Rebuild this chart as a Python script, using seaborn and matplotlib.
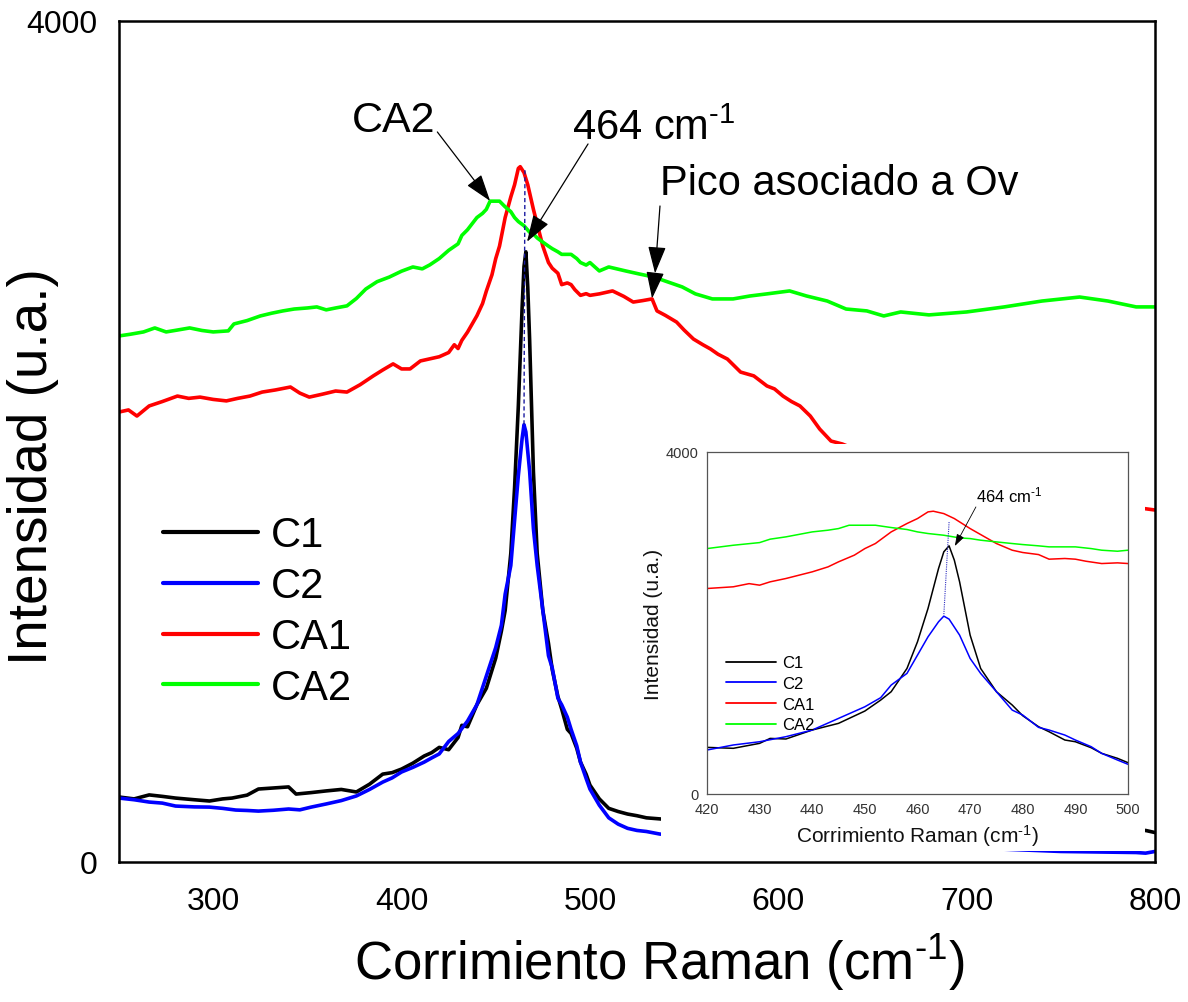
import numpy as np
import pandas as pd
import matplotlib
matplotlib.use("Agg")
import matplotlib.pyplot as plt
from matplotlib.patches import Rectangle
from matplotlib.ticker import MultipleLocator
import seaborn as sns

# Raman spectra (Raman shift in cm^-1, intensity in a.u.)
c1_x = [250, 258, 266, 273, 280, 290, 298, 305, 310, 318, 324, 332, 340, 344, 352, 360, 368, 376,
        383, 390, 395, 400, 406, 412, 416, 420, 425, 430, 432, 435, 440, 445, 450, 453, 455, 458,
        460, 462, 464, 465, 466, 467, 468, 470, 472, 475, 478, 480, 483, 485, 488, 490, 493, 495,
        498, 500, 505, 510, 515, 520, 525, 530, 537, 560, 600, 650, 700, 750, 790, 795, 800]
c1_y = [309, 300, 319, 312, 304, 296, 290, 300, 304, 318, 347, 352, 357, 323, 330, 338, 345, 333,
        370, 418, 425, 442, 470, 504, 520, 545, 534, 592, 650, 643, 748, 826, 970, 1098, 1196, 1468,
        1780, 2170, 2637, 2832, 2902, 2734, 2481, 1858, 1468, 1196, 1040, 915, 787, 728, 631, 611, 541, 475,
        417, 366, 300, 255, 240, 228, 220, 210, 205, 185, 165, 150, 148, 145, 143, 150, 140]

c2_x = [250, 258, 266, 273, 280, 290, 298, 305, 312, 318, 324, 332, 340, 346, 352, 360, 368, 376,
        383, 390, 395, 400, 406, 412, 416, 420, 425, 430, 435, 440, 445, 450, 453, 455, 458, 460,
        462, 464, 465, 466, 468, 470, 472, 475, 478, 480, 483, 485, 488, 490, 493, 495, 498, 500,
        505, 510, 515, 520, 525, 530, 537, 560, 600, 650, 700, 750, 790, 795, 800]
c2_y = [304, 296, 285, 280, 266, 262, 261, 255, 247, 245, 242, 246, 252, 248, 261, 276, 292, 314,
        345, 380, 400, 428, 450, 475, 495, 514, 573, 611, 670, 748, 884, 1020, 1126, 1274, 1410, 1624,
        1838, 2014, 2080, 2045, 1858, 1585, 1410, 1196, 981, 923, 779, 748, 689, 631, 553, 475, 397, 347,
        270, 210, 180, 160, 150, 145, 133, 110, 85, 72, 68, 50, 45, 42, 50]

ca1_x = [250, 255, 259.5, 266, 273, 281, 287, 293, 300, 307, 313, 319.5, 326, 333, 341, 346, 351,
         358, 365, 371, 378, 385, 390, 395.5, 400, 404.5, 410, 416, 420, 425, 428, 430, 432, 435,
         440, 443, 445, 448, 450, 452, 455, 458, 460, 462, 463, 465, 467, 470, 472, 475, 478, 480,
         483, 485, 488, 490, 492, 495, 498, 500, 505, 512, 518, 523, 528, 533, 535.6, 540, 546, 550,
         555, 560, 564, 568, 573, 580, 587, 594, 598, 602.5, 607, 611.5, 617, 622, 628, 634, 650,
         700, 750, 795, 800]
ca1_y = [2140, 2150, 2121, 2169, 2190, 2216, 2205, 2211, 2200, 2193, 2205, 2216, 2235, 2245, 2259,
         2230, 2211, 2225, 2240, 2235, 2270, 2312, 2340, 2369, 2345, 2345, 2383, 2395, 2403, 2423,
         2460, 2442, 2481, 2520, 2598, 2656, 2715, 2793, 2870, 2929, 3065, 3163, 3221, 3299, 3307,
         3279, 3221, 3104, 3034, 2929, 2851, 2824, 2800, 2746, 2754, 2746, 2722, 2695, 2703, 2695,
         2702, 2716, 2690, 2663, 2670, 2678, 2621, 2600, 2568, 2530, 2487, 2460, 2440, 2415, 2392,
         2330, 2312, 2264, 2250, 2216, 2190, 2169, 2121, 2059, 2002, 1988, 1930, 1800, 1720, 1680, 1674]

ca2_x = [250, 256, 263, 269, 275, 281, 287.5, 294, 300, 308, 311, 318, 325, 331, 337, 343, 350, 355,
         360, 365, 371, 376, 381, 387, 393.5, 400, 406, 411, 415, 420, 425, 430, 432, 435, 440, 443,
         445, 447, 450, 452, 455, 458, 460, 462, 465, 468, 470, 472, 475, 478, 480, 483, 485, 488,
         490, 493, 495, 498, 500, 505, 510, 519, 526, 534, 540, 549, 556, 565, 576, 585, 594, 606,
         615, 626, 636, 647, 656, 665, 680, 700, 720, 740, 760, 775, 790, 800]
ca2_y = [2502, 2510, 2521, 2540, 2521, 2530, 2540, 2528, 2521, 2526, 2559, 2575, 2597, 2610, 2621,
         2630, 2635, 2640, 2626, 2635, 2645, 2680, 2725, 2760, 2782, 2810, 2830, 2821, 2840, 2870,
         2909, 2940, 2980, 3007, 3065, 3085, 3104, 3143, 3143, 3143, 3116, 3093, 3065, 3046, 3026,
         2995, 2987, 2968, 2948, 2929, 2917, 2902, 2890, 2890, 2890, 2870, 2851, 2839, 2851, 2811,
         2830, 2811, 2797, 2782, 2763, 2735, 2702, 2678, 2678, 2692, 2702, 2716, 2692, 2668, 2630,
         2621, 2597, 2616, 2602, 2616, 2640, 2668, 2687, 2668, 2640, 2640]

samples = ["C1", "C2", "CA1", "CA2"]
colors = {"C1": "#000000", "C2": "#0000FF", "CA1": "#FF0000", "CA2": "#00FF00"}

xticks_main = [300, 400, 500, 600, 700, 800]
xticks_inset = [420, 430, 440, 450, 460, 470, 480, 490, 500]
yticks = [0, 4000]

peak_pos = 464  # labelled peak position (cm^-1)

frames = []
for name, xs, ys in [("C1", c1_x, c1_y), ("C2", c2_x, c2_y),
                     ("CA1", ca1_x, ca1_y), ("CA2", ca2_x, ca2_y)]:
    frames.append(pd.DataFrame({"shift": xs, "intensity": ys, "muestra": name}))
df = pd.concat(frames, ignore_index=True)

sns.set_theme(style="white")
plt.rcParams["font.family"] = ["Liberation Sans", "DejaVu Sans"]
plt.rcParams["mathtext.fontset"] = "custom"
plt.rcParams["mathtext.rm"] = "Liberation Sans"
plt.rcParams["mathtext.it"] = "Liberation Sans:italic"
plt.rcParams["mathtext.bf"] = "Liberation Sans:bold"
for key in ["text.color", "axes.labelcolor", "xtick.color", "ytick.color"]:
    plt.rcParams[key] = "black"

xlabel = "Corrimiento Raman (cm$^{\\text{-1}}$)"
ylabel = "Intensidad (u.a.)"
peak_label = f"{peak_pos} cm$^{{\\text{{-1}}}}$"

fig = plt.figure(figsize=(11.88, 10.03), dpi=100)
fig.patch.set_facecolor("white")

# ---------------- main axes ----------------
ax = fig.add_axes([0.1002, 0.1396, 0.8720, 0.8385])
sns.lineplot(data=df, x="shift", y="intensity", hue="muestra", hue_order=samples,
             palette=colors, estimator=None, sort=False, lw=2.6, ax=ax, legend=False)
ax.set_xlim(250, 800)
ax.set_ylim(0, 4000)
ax.set_xticks(xticks_main)
ax.xaxis.set_minor_locator(MultipleLocator(50))
ax.set_yticks(yticks)
ax.tick_params(axis="both", which="major", direction="out", length=12, width=1.6,
               labelsize=23, colors="black")
ax.tick_params(axis="x", which="minor", direction="out", length=7, width=1.6)
ax.tick_params(axis="x", pad=5)
for s in ax.spines.values():
    s.set_linewidth(1.8)
    s.set_color("black")
ax.set_xlabel(xlabel, fontsize=38)
ax.xaxis.set_label_coords(0.522, -0.082)
ax.set_ylabel(ylabel, fontsize=39.5)
ax.yaxis.set_label_coords(-0.083, 0.471)
ax.yaxis.label.set_va("center")

handles = [plt.Line2D([], [], color=colors[n], lw=3) for n in samples]
ax.legend(handles, samples, loc="upper left", bbox_to_anchor=(0.042, 0.412),
          frameon=False, fontsize=30, handlelength=2.3, handletextpad=0.3,
          labelspacing=0.26, borderpad=0, borderaxespad=0)

# peak marker
ax.plot([peak_pos + 1.5, peak_pos + 1.0], [3290, 2080], ls=(0, (3, 2)), lw=1.0,
        color="#1a1aa0", zorder=5)

arrow_kw = dict(arrowstyle="-|>,head_length=0.6,head_width=0.2", lw=0.9,
                color="black", mutation_scale=28, shrinkA=0, shrinkB=0)
ax.text(418, 3530, "CA2", fontsize=31, ha="right", va="center")
ax.annotate("", xy=(447, 3144), xytext=(419, 3472), arrowprops=arrow_kw)
ax.text(490.5, 3440, peak_label, fontsize=30, ha="left", va="baseline")
ax.annotate("", xy=(466.6, 2950), xytext=(499, 3415), arrowprops=arrow_kw)
ax.text(537.2, 3177, "Pico asociado a Ov", fontsize=30, ha="left", va="baseline")
ax.annotate("", xy=(534.6, 2800), xytext=(537.2, 3120), arrowprops=arrow_kw)
ax.annotate("", xy=(533.0, 2680), xytext=(534.6, 2800), arrowprops=arrow_kw)

# white panel behind the zoomed view
fig.add_artist(Rectangle((0.5564, 0.1505), 0.4074, 0.4058, transform=fig.transFigure,
                         facecolor="white", edgecolor="none", zorder=1))

# ---------------- inset ----------------
axi = fig.add_axes([0.5951, 0.2074, 0.3544, 0.3410], zorder=2)
axi.set_facecolor("white")
sns.lineplot(data=df, x="shift", y="intensity", hue="muestra", hue_order=samples,
             palette=colors, estimator=None, sort=False, lw=1.1, ax=axi, legend=False)
axi.set_xlim(420, 500)
axi.set_ylim(0, 4000)
axi.set_xticks(xticks_inset)
axi.xaxis.set_minor_locator(MultipleLocator(5))
axi.set_yticks(yticks)
axi.tick_params(axis="both", which="major", direction="out", length=4, width=0.8,
                labelsize=10.5, colors="#333333", pad=2)
axi.tick_params(axis="x", which="minor", direction="out", length=2.5, width=0.8, colors="#333333")
for s in axi.spines.values():
    s.set_linewidth(0.9)
    s.set_color("#555555")
axi.set_xlabel(xlabel, fontsize=15, labelpad=4, color="#111111")
axi.set_ylabel(ylabel, fontsize=15, labelpad=2, color="#111111")

handles_i = [plt.Line2D([], [], color=colors[n], lw=1.3) for n in samples]
axi.legend(handles_i, samples, loc="upper left", bbox_to_anchor=(0.045, 0.405),
           frameon=False, fontsize=12, handlelength=3.0, handletextpad=0.35,
           labelspacing=0.34, borderpad=0, borderaxespad=0)

axi.plot([peak_pos + 2.0, peak_pos + 1.0], [3180, 2090], ls=(0, (1, 1)), lw=0.8,
         color="#3030c0", zorder=5)
axi.text(471.2, 3420, peak_label, fontsize=12, ha="left", va="baseline")
axi.annotate("", xy=(467.1, 2900), xytext=(471.1, 3357),
             arrowprops=dict(arrowstyle="-|>,head_length=0.6,head_width=0.2", lw=0.6,
                             color="black", mutation_scale=12, shrinkA=0, shrinkB=0))

fig.savefig("out.png", dpi=100, facecolor="white")
